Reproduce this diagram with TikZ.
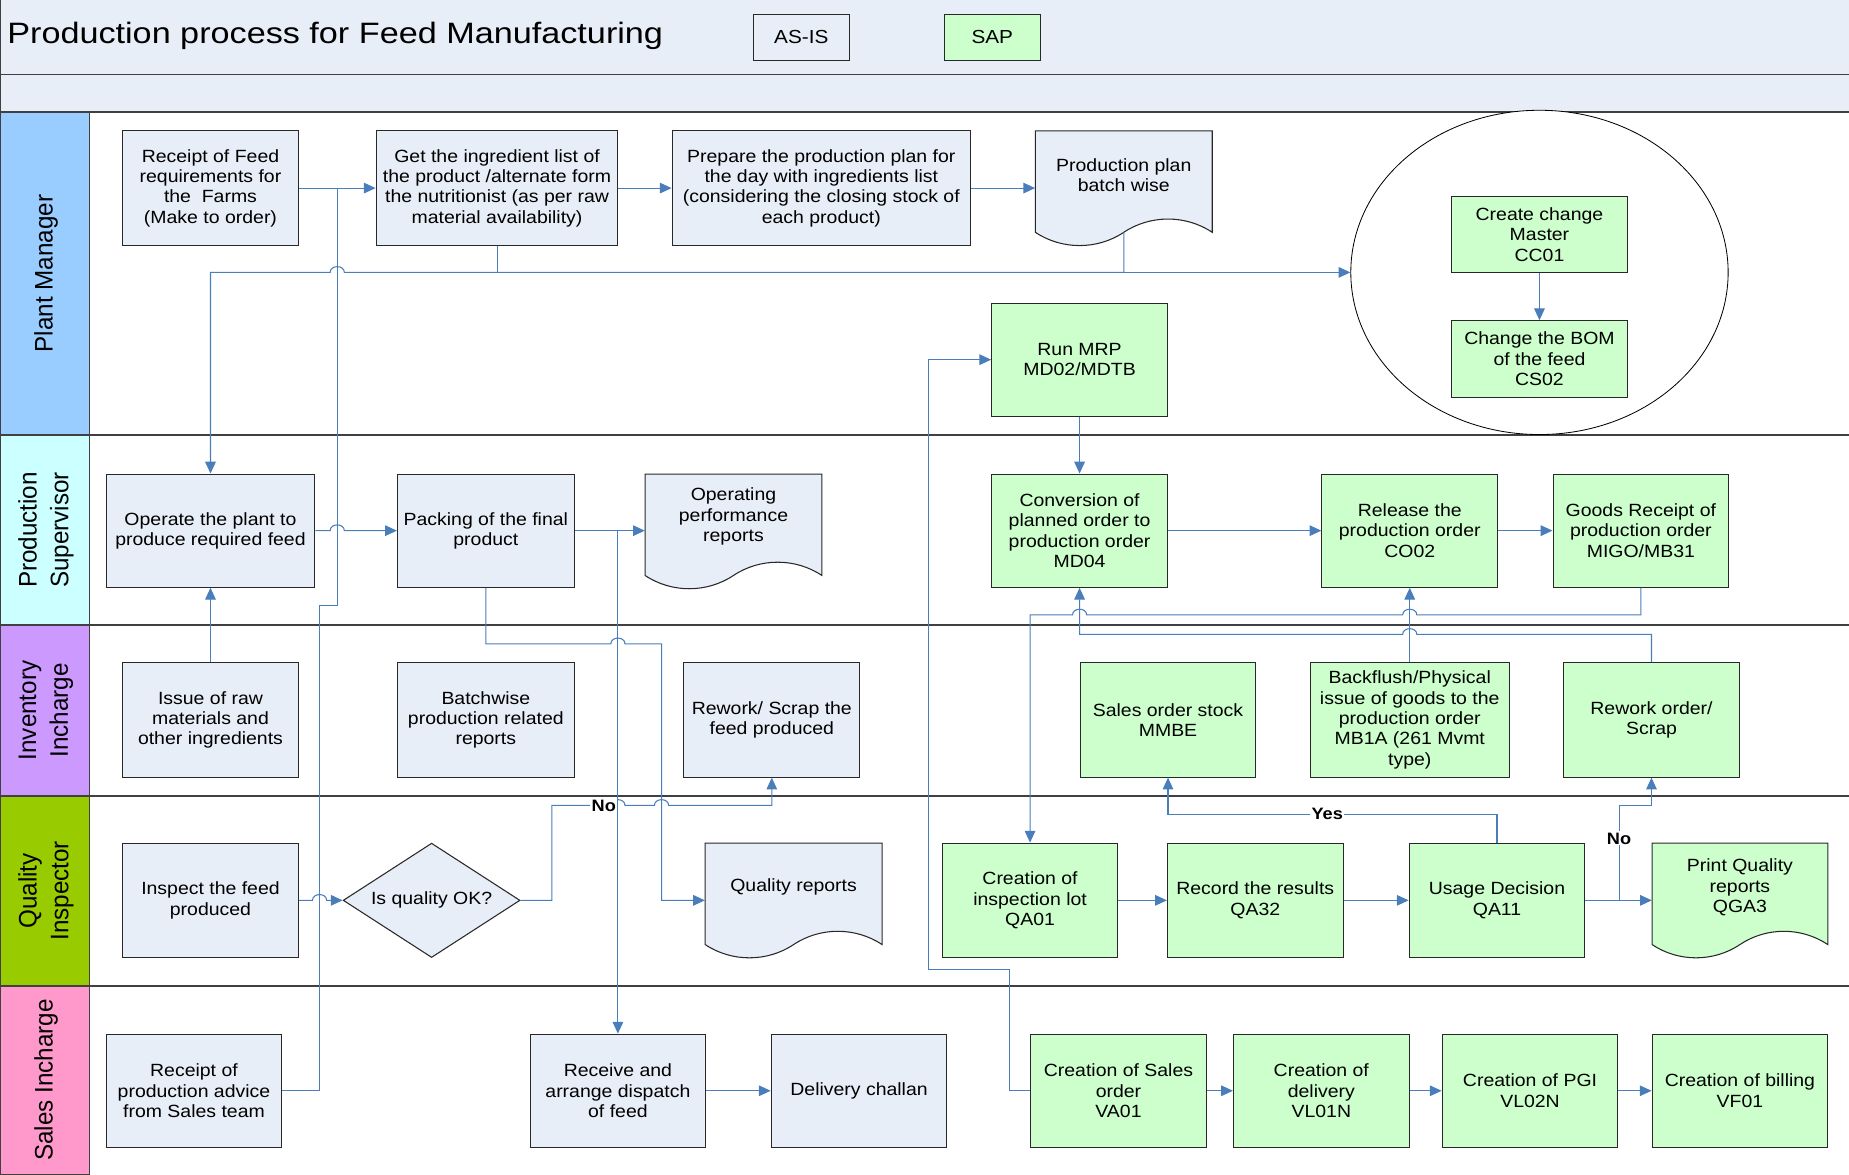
\documentclass[tikz,border=0pt]{standalone}
\usepackage{fontspec}
\setmainfont{Liberation Sans}[FakeStretch=1.1]
\newfontfamily\lanefont{Liberation Sans}[FakeStretch=0.955]
\newfontfamily\titlefont{Liberation Sans}[FakeStretch=1.16]
\usetikzlibrary{shapes.geometric,arrows.meta}
\definecolor{hdr}{RGB}{232,238,247}
\definecolor{asisfill}{RGB}{232,238,247}
\definecolor{sapfill}{RGB}{204,255,204}
\definecolor{cblue}{RGB}{74,126,187}
\definecolor{laneline}{RGB}{64,64,64}
\definecolor{boxline}{RGB}{40,40,40}
\definecolor{pmC}{RGB}{153,204,255}
\definecolor{psC}{RGB}{204,255,255}
\definecolor{invC}{RGB}{204,153,255}
\definecolor{qiC}{RGB}{153,204,0}
\definecolor{slC}{RGB}{255,153,204}
\newcommand{\docpath}[4]{%
  \filldraw[fill=#1, draw=boxline, line width=0.9pt, shift={(#2,#3)}]
    (0,0) -- (#4,0) -- (#4,86)
    .. controls ({0.85*#4},71) and ({0.65*#4},71) .. ({0.5*#4},86)
    .. controls ({0.35*#4},101) and ({0.15*#4},101) .. (0,86) -- cycle;}
\tikzset{
  boxbase/.style={draw=boxline, line width=0.9pt, align=center, inner sep=1pt,
    font=\fontsize{15}{17.3}\selectfont, minimum width=149pt, minimum height=97pt},
  asis/.style={boxbase, fill=asisfill},
  sap/.style={boxbase, fill=sapfill},
  docnode/.style={minimum width=150pt, minimum height=97pt, inner sep=0pt},
  doctext/.style={align=center, font=\fontsize{15}{17.3}\selectfont, inner sep=0pt},
  conn/.style={draw=cblue, line width=0.9pt},
  arr/.style={conn, -{Triangle[length=10pt,width=9pt]}},
  lanelabel/.style={rotate=90, align=center, inner sep=0pt, font=\lanefont\fontsize{21.5}{27}\selectfont},
  lbl/.style={fill=white, inner sep=1pt, font=\bfseries\fontsize{14}{16}\selectfont},
  lanesep/.style={draw=laneline, line width=1.2pt},
}
\begin{document}
\begin{tikzpicture}[x=1pt,y=-1pt]
\useasboundingbox (0,0) rectangle (1568,996);
% header
\fill[hdr] (0,0) rectangle (1568,95);
\node[anchor=west, inner sep=0pt, font=\titlefont\fontsize{25}{28}\selectfont] (title) at (6,30) {Production process for Feed Manufacturing};
\node[draw=boxline, line width=0.9pt, fill=asisfill, minimum width=81pt, minimum height=39pt, inner sep=0pt, font=\fontsize{16}{18}\selectfont] (legasis) at (679.5,31.5) {AS-IS};
\node[draw=boxline, line width=0.9pt, fill=sapfill, minimum width=81pt, minimum height=39pt, inner sep=0pt, font=\fontsize{16}{18}\selectfont] (legsap) at (841.5,31.5) {SAP};
% lanes
\filldraw[fill=pmC, draw=laneline, line width=1pt] (0,95) rectangle (76,369);
\filldraw[fill=psC, draw=laneline, line width=1pt] (0,369) rectangle (76,530);
\filldraw[fill=invC, draw=laneline, line width=1pt] (0,530) rectangle (76,675);
\filldraw[fill=qiC, draw=laneline, line width=1pt] (0,675) rectangle (76,836);
\filldraw[fill=slC, draw=laneline, line width=1pt] (0,836) rectangle (76,996);
\draw[lanesep] (0,63) -- (1568,63);
\draw[lanesep] (0,95) -- (1568,95);
\draw[lanesep] (0,369) -- (1568,369);
\draw[lanesep] (0,530) -- (1568,530);
\draw[lanesep] (0,675) -- (1568,675);
\draw[lanesep] (0,836) -- (1568,836);
\draw[lanesep] (0.6,0) -- (0.6,996);
\node[lanelabel] (lpm) at (39,232) {Plant Manager};
\node[lanelabel] (lps) at (39,449.5) {Production\\Supervisor};
\node[lanelabel] (linv) at (39,602.5) {Inventory\\Incharge};
\node[lanelabel] (lqi) at (39,755.5) {Quality\\Inspector};
\node[lanelabel] (lsl) at (39,916) {Sales Incharge};
% Plant manager
\node[asis] (recFeed) at (178.5,159.5) {Receipt of Feed\\requirements for\\the\ \ Farms\\(Make to order)};
\node[asis, minimum width=205pt] (ingr) at (421.5,159.5) {Get the ingredient list of\\the product /alternate form\\the nutritionist (as per raw\\material availability)};
\node[asis, minimum width=253pt] (prep) at (696.5,159.5) {Prepare the production plan for\\the day with ingredients list\\(considering the closing stock of\\each product)};
\docpath{asisfill}{878}{111}{150}
\node[docnode] (plan) at (953,159.5) {};
\node[doctext] (plant) at (953,148.5) {Production plan\\batch wise};
\node[draw=black, line width=0.7pt, fill=white, ellipse, minimum width=320pt, minimum height=275pt, inner sep=0pt] (circ) at (1305.5,231) {};
\node[sap, minimum height=64pt] (cc01) at (1305.5,199) {Create change\\Master\\CC01};
\node[sap, minimum height=65pt] (cs02) at (1305.5,304.5) {Change the BOM\\of the feed\\CS02};
\node[sap, minimum height=96pt] (mrp) at (915.5,305) {Run MRP\\MD02/MDTB};
% Production supervisor
\node[asis, minimum width=177pt, minimum height=96pt] (operate) at (178.5,450) {Operate the plant to\\produce required feed};
\node[asis, minimum width=150pt, minimum height=96pt] (packing) at (412,450) {Packing of the final\\product};
\docpath{asisfill}{547}{402}{150}
\node[docnode] (opperf) at (622,450) {};
\node[doctext] (opperft) at (622,438) {Operating\\performance\\reports};
\node[sap, minimum height=96pt] (md04) at (915.5,450) {Conversion of\\planned order to\\production order\\MD04};
\node[sap, minimum height=96pt] (co02) at (1195.5,450) {Release the\\production order\\CO02};
\node[sap, minimum height=96pt] (migo) at (1391.5,450) {Goods Receipt of\\production order\\MIGO/MB31};
% Inventory
\node[asis] (issue) at (178.5,610.5) {Issue of raw\\materials and\\other ingredients};
\node[asis, minimum width=150pt] (batch) at (412,610.5) {Batchwise\\production related\\reports};
\node[asis] (rework) at (654.5,610.5) {Rework/ Scrap the\\feed produced};
\node[sap] (mmbe) at (990.5,610.5) {Sales order stock\\MMBE};
\node[sap, minimum width=169pt] (mb1a) at (1195.5,610.5) {Backflush/Physical\\issue of goods to the\\production order\\MB1A (261 Mvmt\\type)};
\node[sap] (rwo) at (1400.5,610.5) {Rework order/\\Scrap};
% Quality
\node[asis] (inspect) at (178.5,763.5) {Inspect the feed\\produced};
\node[diamond, draw=boxline, line width=0.9pt, fill=asisfill, minimum width=150pt, minimum height=97pt, inner sep=0pt, aspect=1.55, font=\fontsize{15}{17.3}\selectfont] (diamond) at (366,763.5) {Is quality OK?};
\docpath{asisfill}{598}{715}{150}
\node[docnode] (qrep) at (673,763.5) {};
\node[doctext] (qrept) at (673,752) {Quality reports};
\node[sap] (qa01) at (873.5,763.5) {Creation of\\inspection lot\\QA01};
\node[sap] (qa32) at (1064.5,763.5) {Record the results\\QA32};
\node[sap] (qa11) at (1269.5,763.5) {Usage Decision\\QA11};
\docpath{sapfill}{1401}{715}{149}
\node[docnode, minimum width=149pt] (qga3) at (1475.5,763.5) {};
\node[doctext] (qga3t) at (1475.5,752.5) {Print Quality\\reports\\QGA3};
% Sales
\node[asis, minimum height=96pt] (recAdv) at (164.5,925) {Receipt of\\production advice\\from Sales team};
\node[asis, minimum height=96pt] (dispatch) at (524,925) {Receive and\\arrange dispatch\\of feed};
\node[asis, minimum height=96pt] (challan) at (728.5,925) {Delivery challan};
\node[sap, minimum height=96pt] (va01) at (948.5,925) {Creation of Sales\\order\\VA01};
\node[sap, minimum height=96pt] (vl01n) at (1120.5,925) {Creation of\\delivery\\VL01N};
\node[sap, minimum height=96pt] (vl02n) at (1297.5,925) {Creation of PGI\\VL02N};
\node[sap, minimum height=96pt] (vf01) at (1475.5,925) {Creation of billing\\VF01};
% connectors
\draw[arr] (recFeed.east) -- (ingr.west);
\draw[arr] (ingr.east) -- (prep.west);
\draw[arr] (prep.east) -- (plan.west);
\coordinate (pw) at (953,197);
\draw[conn] (ingr.south) -- (421.5,231);
\draw[arr] (pw) -- (953,231) -- (292,231) .. controls (292,224.5) and (280,224.5) .. (280,231) -- (178.5,231) -- (operate.north);
\draw[arr] (953,231) -- (circ.west);
\draw[arr] (cc01.south) -- (cs02.north);
\draw[conn] (recAdv.east) -| (271,513.5) -| (286,159.5);
\draw[arr] (va01.west) -| (856,822) -| (787.5,305) -- (mrp.west);
\draw[arr] (mrp.south) -- (md04.north);
\draw[arr] (operate.east) -- (280,450) .. controls (280,443.5) and (292,443.5) .. (292,450) -- (packing.west);
\draw[arr] (packing.east) -- (opperf.west);
\draw[arr] (524,450) -- (dispatch.north);
\draw[arr] (packing.south) -- (412,546) -- (518,546) .. controls (518,539.5) and (530,539.5) .. (530,546) -- (561,546) -- (561,763.5) -- (qrep.west);
\draw[arr] (issue.north) -- (operate.south);
\draw[arr] (inspect.east) -- (265,763.5) .. controls (265,757) and (277,757) .. (277,763.5) -- (diamond.west);
\draw[arr] (diamond.east) -- (468,763.5) -- (468,683) -- (518,683) .. controls (518,676.5) and (530,676.5) .. (530,683) -- (555,683) .. controls (555,676.5) and (567,676.5) .. (567,683) -- (654.5,683) -- (rework.south);
\node[lbl] (no1) at (512,683) {No};
\draw[arr] (dispatch.east) -- (challan.west);
\draw[arr] (va01.east) -- (vl01n.west);
\draw[arr] (vl01n.east) -- (vl02n.west);
\draw[arr] (vl02n.east) -- (vf01.west);
\draw[arr] (md04.east) -- (co02.west);
\draw[arr] (co02.east) -- (migo.west);
\draw[arr] (migo.south) -- (1391.5,521.5) -- (1201.5,521.5) .. controls (1201.5,515) and (1189.5,515) .. (1189.5,521.5) -- (921.5,521.5) .. controls (921.5,515) and (909.5,515) .. (909.5,521.5) -- (873.5,521.5) -- (qa01.north);
\draw[arr] (mb1a.north) -- (co02.south);
\draw[arr] (rwo.north) -- (1400.5,538) -- (1201.5,538) .. controls (1201.5,531.5) and (1189.5,531.5) .. (1189.5,538) -- (915.5,538) -- (md04.south);
\draw[arr] (qa01.east) -- (qa32.west);
\draw[arr] (qa32.east) -- (qa11.west);
\draw[arr] (qa11.east) -- (qga3.west);
\draw[arr] (qa11.north) -- (1269.5,690.5) -- (990.5,690.5) -- (mmbe.south);
\node[lbl] (yes) at (1125.5,690.5) {Yes};
\draw[arr] (1373,763.5) -- (1373,683) -- (1400.5,683) -- (rwo.south);
\node[lbl] (no2) at (1373,711) {No};
\end{tikzpicture}
\end{document}
